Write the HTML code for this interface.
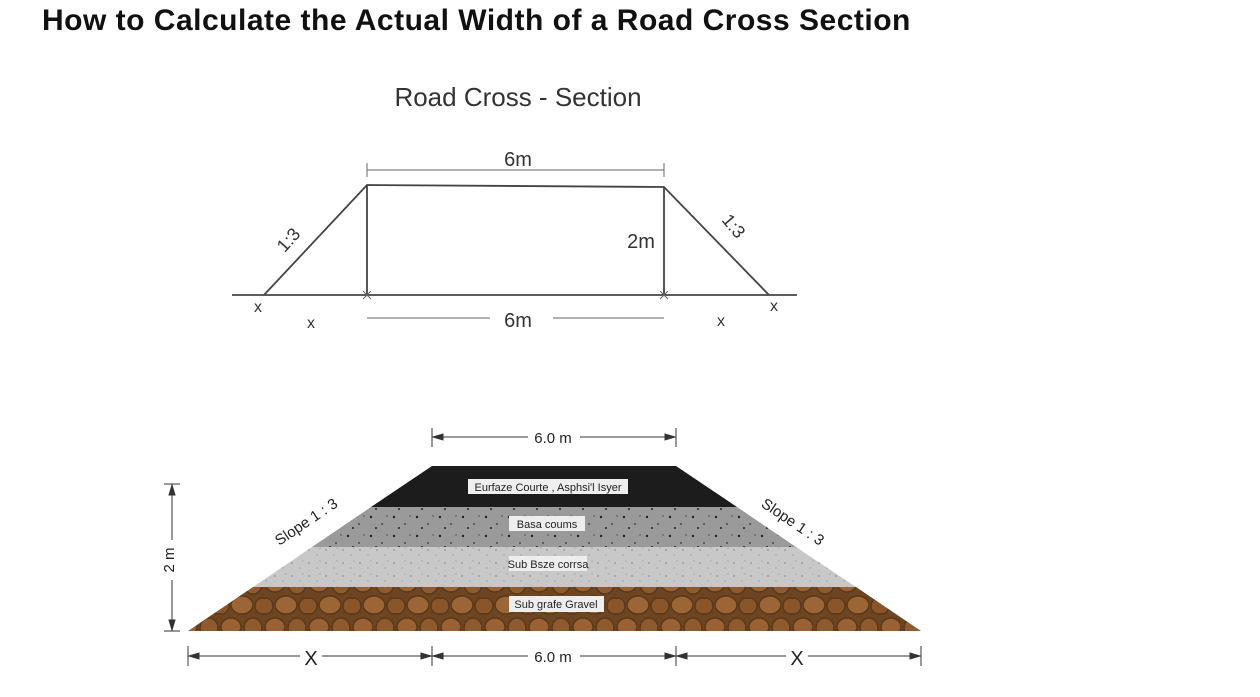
<!DOCTYPE html>
<html><head><meta charset="utf-8"><style>
html,body{margin:0;padding:0;background:#fff;}
body{width:1260px;height:697px;overflow:hidden;position:relative;font-family:"Liberation Sans",sans-serif;}
h1{position:absolute;left:42px;top:4px;margin:0;font-size:30px;font-weight:bold;color:#111;letter-spacing:0.5px;}
</style></head><body>
<h1>How to Calculate the Actual Width of a Road Cross Section</h1>
<svg width="1260" height="697" style="position:absolute;left:0;top:0" xmlns="http://www.w3.org/2000/svg">
<defs>
<pattern id="spk" width="23" height="19" patternUnits="userSpaceOnUse">
<circle cx="3" cy="4" r="1.2" fill="#222"/><circle cx="14" cy="11" r="0.9" fill="#333"/><circle cx="19" cy="3" r="0.7" fill="#444"/><circle cx="8" cy="15" r="1" fill="#222"/>
</pattern>
<pattern id="spk2" width="17" height="13" patternUnits="userSpaceOnUse">
<circle cx="3" cy="4" r="0.6" fill="#555"/><circle cx="11" cy="9" r="0.5" fill="#666"/><circle cx="14" cy="2" r="0.5" fill="#777"/>
</pattern>
<pattern id="grv" width="44" height="44" patternUnits="userSpaceOnUse">
<rect width="44" height="44" fill="#6e4523"/>
<ellipse cx="11" cy="11" rx="10" ry="9" fill="#9a6234" stroke="#5a3818" stroke-width="1.5"/>
<ellipse cx="33" cy="12" rx="9" ry="10" fill="#8e5a2e" stroke="#5a3818" stroke-width="1.5"/>
<ellipse cx="22" cy="33" rx="11" ry="9" fill="#9c6536" stroke="#5a3818" stroke-width="1.5"/>
<ellipse cx="2" cy="34" rx="7" ry="8" fill="#8a5629" stroke="#5a3818" stroke-width="1.5"/>
<ellipse cx="42" cy="34" rx="7" ry="8" fill="#8a5629" stroke="#5a3818" stroke-width="1.5"/>
</pattern>
</defs>
<text x="518" y="106" font-family="Liberation Sans" font-size="26" fill="#333" text-anchor="middle">Road Cross - Section</text>
<g stroke="#444" stroke-width="1.8" fill="none">
<line x1="232" y1="295" x2="797" y2="295"/>
<polyline points="264,295 367,185 664,187 769,295"/>
<line x1="367" y1="185" x2="367" y2="295"/>
<line x1="664" y1="187" x2="664" y2="295"/>
</g>
<g stroke="#666" stroke-width="1" fill="none">
<line x1="367" y1="170" x2="664" y2="170"/><line x1="367" y1="163" x2="367" y2="177"/><line x1="664" y1="163" x2="664" y2="177"/>
<line x1="367" y1="318" x2="490" y2="318"/><line x1="553" y1="318" x2="664" y2="318"/>
<line x1="363" y1="291" x2="371" y2="299"/><line x1="371" y1="291" x2="363" y2="299"/>
<line x1="660" y1="291" x2="668" y2="299"/><line x1="668" y1="291" x2="660" y2="299"/>
</g>
<g font-family="Liberation Sans" fill="#333" font-size="20">
<text x="518" y="166" text-anchor="middle">6m</text>
<text x="518" y="327" text-anchor="middle">6m</text>
<text x="641" y="248" text-anchor="middle">2m</text>
<text x="258" y="312" font-size="16" text-anchor="middle">x</text>
<text x="311" y="328" font-size="16" text-anchor="middle">x</text>
<text x="721" y="326" font-size="16" text-anchor="middle">x</text>
<text x="774" y="311" font-size="16" text-anchor="middle">x</text>
<text x="293" y="244" font-size="18" text-anchor="middle" transform="rotate(-48 293 244)">1:3</text>
<text x="729" y="230" font-size="18" text-anchor="middle" transform="rotate(50 729 230)">1:3</text>
</g>
<polygon points="432,466 676,466 737,507 371,507" fill="#1c1c1c"/>
<polygon points="371,507 737,507 796,547 312,547" fill="#9a9a9a"/>
<polygon points="371,507 737,507 796,547 312,547" fill="url(#spk)"/>
<polygon points="312,547 796,547 856,587 253,587" fill="#c8c8c8"/>
<polygon points="312,547 796,547 856,587 253,587" fill="url(#spk2)"/>
<polygon points="253,587 856,587 921,631 188,631" fill="url(#grv)"/>
<g font-family="Liberation Sans" font-size="11" fill="#222" text-anchor="middle">
<rect x="468" y="479" width="160" height="15" fill="#eee"/><text x="548" y="491">Eurfaze Courte , Asphsi'l Isyer</text>
<rect x="509" y="516" width="76" height="15" fill="#eee"/><text x="547" y="528">Basa coums</text>
<rect x="509" y="556" width="78" height="15" fill="#eee"/><text x="548" y="568">Sub Bsze corrsa</text>
<rect x="509" y="596" width="95" height="16" fill="#eee"/><text x="556" y="608">Sub grafe Gravel</text>
</g>
<g stroke="#333" stroke-width="1" fill="#333">
<line x1="432" y1="437" x2="528" y2="437"/><line x1="580" y1="437" x2="676" y2="437"/>
<line x1="432" y1="428" x2="432" y2="447"/><line x1="676" y1="428" x2="676" y2="447"/>
<polygon points="433,437 443,434 443,440"/><polygon points="675,437 665,434 665,440"/>
<line x1="188" y1="656" x2="300" y2="656"/><line x1="322" y1="656" x2="432" y2="656"/>
<line x1="432" y1="656" x2="528" y2="656"/><line x1="580" y1="656" x2="676" y2="656"/>
<line x1="676" y1="656" x2="786" y2="656"/><line x1="808" y1="656" x2="921" y2="656"/>
<line x1="188" y1="646" x2="188" y2="666"/><line x1="432" y1="646" x2="432" y2="666"/><line x1="676" y1="646" x2="676" y2="666"/><line x1="921" y1="646" x2="921" y2="666"/>
<polygon points="189,656 199,653 199,659"/><polygon points="431,656 421,653 421,659"/><polygon points="433,656 443,653 443,659"/><polygon points="675,656 665,653 665,659"/><polygon points="677,656 687,653 687,659"/><polygon points="920,656 910,653 910,659"/>
<line x1="172" y1="484" x2="172" y2="540"/><line x1="172" y1="580" x2="172" y2="631"/>
<line x1="164" y1="484" x2="180" y2="484"/><line x1="164" y1="631" x2="180" y2="631"/>
<polygon points="172,485 169,495 175,495"/><polygon points="172,630 169,620 175,620"/>
</g>
<g font-family="Liberation Sans" fill="#222" text-anchor="middle">
<text x="553" y="443" font-size="15">6.0 m</text>
<text x="553" y="662" font-size="15">6.0 m</text>
<text x="311" y="665" font-size="20">X</text>
<text x="797" y="665" font-size="20">X</text>
<text x="174" y="560" font-size="15" transform="rotate(-90 174 560)">2 m</text>
<text x="309" y="526" font-size="15" transform="rotate(-34 309 526)">Slope 1 : 3</text>
<text x="790" y="526" font-size="15" transform="rotate(34 790 526)">Slope 1 : 3</text>
</g>
</svg>
</body></html>
